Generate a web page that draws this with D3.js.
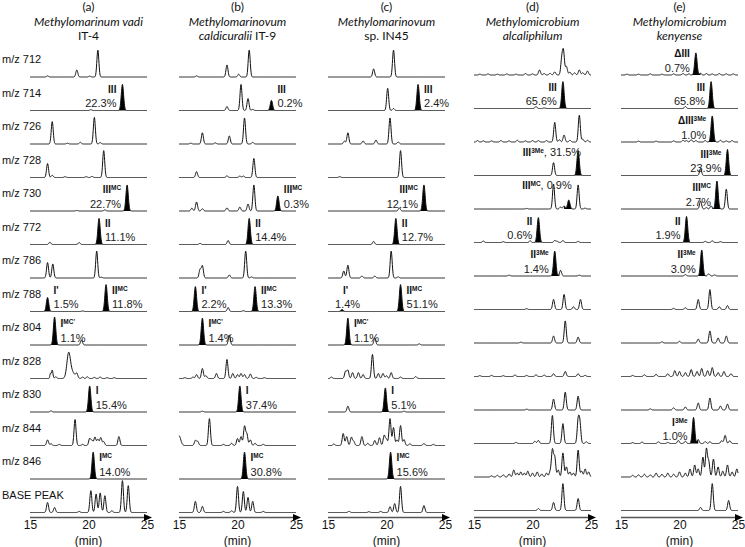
<!DOCTYPE html>
<html><head><meta charset="utf-8">
<script src="https://cdn.jsdelivr.net/npm/d3@7"></script>
<style>body{margin:0;background:#fff}svg{display:block}</style>
</head><body>
<svg id="chart" width="745" height="547"></svg>
<script>
// ---------------- DATA ----------------
const rowLabels = ["m/z 712","m/z 714","m/z 726","m/z 728","m/z 730","m/z 772","m/z 786","m/z 788","m/z 804","m/z 828","m/z 830","m/z 844","m/z 846","BASE PEAK"];
const tickValues = [15, 20, 25];
const timeDomain = [15, 25];
const axisUnit = "(min)";

const titlesA = [[["(a)",0]],[["Methylomarinum vadi",1]],[["IT-4",0]]];
const titlesB = [[["(b)",0]],[["Methylomarinovum",1]],[["caldicuralii",1],[" IT-9",0]]];
const titlesC = [[["(c)",0]],[["Methylomarinovum",1]],[["sp. IN45",0]]];
const titlesD = [[["(d)",0]],[["Methylomicrobium",1]],[["alcaliphilum",1]]];
const titlesE = [[["(e)",0]],[["Methylomicrobium",1]],[["kenyense",1]]];

// peaks per row: [retention time (min), relative intensity, optional width (min)]
const peaksA = [
 [[16.5,4],[19.0,25],[20.1,3],[20.8,96]],
 [[20.2,3]],
 [[16.9,80],[18.2,3],[19.3,6],[20.5,95],[21.0,5]],
 [[16.5,50],[16.9,8],[18.0,3],[19.8,3],[20.3,4],[21.3,96]],
 [[19.0,2],[21.4,4]],
 [[16.7,8],[19.2,7]],
 [[16.5,55],[16.95,50],[20.7,96],[21.1,3]],
 [[19.5,2]],
 [[19.4,18]],
 [[16.75,18,0.05],[16.9,30,0.06],[17.2,6],[18.3,85,0.15],[18.6,22,0.22],[19.0,16],[19.5,5],[19.9,6],[20.5,4],[21.0,5],[21.6,3],[22.2,3]],
 [[16.8,4]],
 [[16.5,20],[16.8,6],[17.5,4],[18.85,93],[19.5,4],[20.1,25],[20.3,18],[20.55,30],[20.8,22],[21.05,28],[21.3,14],[22.6,32]],
 [],
 [[16.5,36],[17.1,18],[19.2,4],[20.2,78],[20.65,66],[21.0,70],[21.4,60],[22.0,6],[22.9,114],[23.4,96]]
];
const peaksB = [
 [[16.5,4],[19.1,43],[20.1,10],[21.0,96]],
 [[19.1,14],[20.3,93],[20.9,43],[21.3,4]],
 [[16.0,3],[17.0,40],[18.1,4],[19.3,29],[20.6,93],[21.3,6]],
 [[16.5,21],[19.1,6],[20.2,5],[20.5,5],[21.4,68]],
 [[16.1,10],[16.5,32],[17.0,8],[19.1,11],[20.2,14],[20.9,25],[21.4,93]],
 [[16.8,4],[19.2,14]],
 [[16.8,30],[17.0,43],[19.3,11],[20.7,96],[21.2,4]],
 [[19.2,14],[20.5,3]],
 [[19.3,36]],
 [[15.5,3],[16.2,5],[16.5,14],[17.0,36],[17.3,10],[18.2,18],[19.1,68],[19.6,18],[20.0,14],[20.3,18],[20.6,14],[21.1,16],[21.6,4],[22.3,3]],
 [[17.0,3]],
 [[15.0,35,0.15],[16.4,18],[16.6,14],[17.6,96],[18.8,4],[19.5,8],[20.0,25],[20.3,32],[20.6,68],[20.8,40],[21.1,20],[21.5,8],[22.2,4]],
 [],
 [[16.4,40],[17.0,22],[18.8,4],[19.5,6],[20.0,93],[20.5,75],[20.9,54],[21.3,40],[22.2,4]]
];
const peaksC = [
 [[18.9,29],[20.6,96]],
 [[20.1,79],[20.6,7]],
 [[16.4,10],[16.7,40],[18.0,11],[19.1,14],[20.3,93],[21.0,7]],
 [[16.0,3],[21.2,96]],
 [[21.1,11]],
 [[18.9,11]],
 [[16.35,25],[16.7,46],[17.9,7],[19.0,7],[20.4,96],[21.0,4]],
 [],
 [[19.0,25],[22.8,4]],
 [[15.3,5],[16.5,25],[16.7,29],[17.1,21],[17.6,21],[18.0,14],[18.8,86],[19.3,18],[19.7,18],[20.0,10],[20.4,21],[21.2,5],[22.5,7]],
 [[16.7,21],[21.5,3]],
 [[15.5,5],[16.3,43],[16.6,32],[17.0,29],[17.2,14],[17.9,32],[18.4,8],[19.0,18],[19.4,28],[19.8,36],[20.0,22],[20.3,96],[20.6,64],[20.9,20],[21.2,71],[21.5,21],[22.0,6],[23.2,7],[24.0,4]],
 [],
 [[16.8,4],[18.5,3],[19.5,4],[20.3,21],[20.7,32],[21.2,93],[23.2,25]]
];
const peaksD = [
 [[15.5,3],[16.2,4],[17.0,3],[17.8,4],[18.6,3],[19.4,5],[20.0,4],[20.6,18],[21.0,5],[21.5,6],[21.9,11],[22.5,54],[22.65,80],[22.9,30],[23.2,10],[23.6,8],[24.0,18],[24.3,8],[24.7,14]],
 [[20.3,7],[21.0,2]],
 [[15.3,5],[15.8,4],[16.5,4],[17.3,5],[18.0,4],[18.7,6],[19.4,4],[20.0,5],[20.5,5],[21.2,5],[21.9,70],[22.3,8],[22.7,25],[23.2,6],[24.0,96],[24.3,10],[24.7,6]],
 [[21.8,46]],
 [[19.5,2],[21.8,89],[22.4,7],[22.7,11],[23.9,86],[24.5,3]],
 [[15.8,5],[17.5,3],[19.8,6],[21.9,7],[22.1,4],[22.6,7],[23.9,4]],
 [[18.0,3],[22.4,20],[24.0,3]],
 [[19.5,3],[21.8,36],[22.7,54],[23.5,10],[24.1,36]],
 [[19.0,3],[21.8,25],[22.8,79],[23.9,21]],
 [[15.5,3],[16.5,4],[17.5,3],[18.5,5],[19.5,4],[20.3,6],[21.0,5],[21.8,10],[22.8,18],[23.9,10],[24.5,4]],
 [[19.5,3],[21.8,39],[22.8,64],[23.9,50]],
 [[18.6,4],[20.2,8],[20.5,11],[21.7,100],[22.6,71],[23.9,79],[24.05,71],[24.6,6]],
 [[16.5,4],[17.0,6],[17.5,8],[18.0,11],[18.4,25],[18.7,14],[19.0,18],[19.3,14],[19.6,21],[20.0,14],[20.4,18],[20.8,11],[21.2,14],[21.5,18],[21.7,96],[21.9,71],[22.2,25],[22.6,86],[22.9,36],[23.2,18],[23.5,14],[23.9,96],[24.2,21],[24.5,29],[24.8,18]],
 [[20.5,7],[21.8,29],[22.6,96],[23.9,43]]
];
const peaksE = [
 [[15.5,3],[16.5,3],[17.5,4],[18.5,3],[19.5,4],[20.3,5],[20.8,4],[21.8,6],[22.3,5],[22.8,4],[23.4,5],[24.0,4],[24.6,4]],
 [[20.5,7]],
 [[16.5,3],[18.0,3],[19.5,4],[20.3,6],[20.6,5],[21.0,8],[21.4,5],[22.2,5],[23.5,6],[24.0,4],[24.5,5]],
 [[21.8,25]],
 [[21.8,29],[22.3,5],[22.7,11],[24.0,71]],
 [[22.2,4],[22.8,6],[23.5,3]],
 [[20.5,5],[22.5,8],[23.0,4]],
 [[19.5,4],[20.5,6],[21.6,36],[22.6,71],[23.4,10],[24.1,14]],
 [[18.5,4],[20.0,6],[21.6,14],[22.6,43],[23.3,18],[24.0,25]],
 [[16.0,4],[17.0,6],[18.0,8],[19.0,10],[19.6,21],[20.0,18],[20.5,14],[21.0,25],[21.5,18],[21.9,29],[22.4,21],[22.8,32],[23.3,14],[23.8,18],[24.4,10]],
 [[17.5,4],[19.5,8],[20.5,11],[21.6,25],[22.6,43],[23.5,14],[24.1,21]],
 [[16.0,3],[16.8,5],[18.2,6],[19.0,4],[19.9,11],[20.5,8],[21.6,14],[22.2,7],[22.6,6],[23.6,10],[23.9,29],[24.3,10]],
 [[16.0,6],[16.5,8],[17.0,10],[17.5,8],[18.0,14],[18.5,10],[19.0,14],[19.5,10],[20.0,18],[20.5,14],[20.9,29],[21.3,43],[21.6,29],[22.0,71],[22.3,100],[22.5,54],[22.9,64],[23.3,36],[23.7,21],[24.1,43],[24.5,18],[24.9,29]],
 [[21.8,11],[22.8,96],[24.2,36]]
];

// filled (identified) peaks: [row, time, intensity]
const filledA = [[1,22.9,93],[4,23.3,93],[5,20.9,93],[7,16.5,50],[7,21.5,96],[8,17.1,100],[10,20.1,93],[12,20.4,96]];
const filledB = [[1,22.9,36],[4,23.45,54],[5,21.0,93],[7,16.4,89],[7,21.5,89],[8,17.0,96],[10,20.2,93],[12,20.6,96]];
const filledC = [[1,22.7,93],[4,23.2,93],[5,20.8,93],[7,16.2,7],[7,21.2,96],[8,16.7,96],[10,19.9,86],[12,20.35,96]];
const filledD = [[1,22.6,96],[3,23.9,89],[4,23.1,32],[5,20.5,89],[6,21.9,89]];
const filledE = [[0,21.4,79],[1,22.7,96],[2,22.8,93],[3,24.1,93],[4,23.2,100],[5,20.6,93],[6,21.9,93],[11,21.2,93]];

// annotations: [row, time, compound, superscript, percentage, side]
const notesA = [[1,22.9,"III","","22.3%","L"],[4,23.3,"III","MC","22.7%","L"],[5,20.9,"II","","11.1%","R"],[7,16.5,"I'","","1.5%","R"],[7,21.5,"II","MC","11.8%","R"],[8,17.1,"I","MC'","1.1%","R"],[10,20.1,"I","","15.4%","R"],[12,20.4,"I","MC","14.0%","R"]];
const notesB = [[1,22.9,"III","","0.2%","R"],[4,23.45,"III","MC","0.3%","R"],[5,21.0,"II","","14.4%","R"],[7,16.4,"I'","","2.2%","R"],[7,21.5,"II","MC","13.3%","R"],[8,17.0,"I","MC'","1.4%","R"],[10,20.2,"I","","37.4%","R"],[12,20.6,"I","MC","30.8%","R"]];
const notesC = [[1,22.7,"III","","2.4%","R"],[4,23.2,"III","MC","12.1%","L"],[5,20.8,"II","","12.7%","R"],[7,16.2,"I'","","1.4%","C"],[7,21.2,"II","MC","51.1%","R"],[8,16.7,"I","MC'","1.1%","R"],[10,19.9,"I","","5.1%","R"],[12,20.35,"I","MC","15.6%","R"]];
const notesD = [[1,22.6,"III","","65.6%","L"],[3,23.9,"III","3Me",", 31.5%","I"],[4,23.1,"III","MC",", 0.9%","I"],[5,20.5,"II","","0.6%","L"],[6,21.9,"II","3Me","1.4%","L"]];
const notesE = [[0,21.4,"ΔIII","","0.7%","L"],[1,22.7,"III","","65.8%","L"],[2,22.8,"ΔIII","3Me","1.0%","L"],[3,24.1,"III","3Me","23.9%","L"],[4,23.2,"III","MC","2.7%","L"],[5,20.6,"II","","1.9%","L"],[6,21.9,"II","3Me","3.0%","L"],[11,21.2,"I","3Me","1.0%","L"]];

// ---------------- DRAWING ----------------
const columns = [
 {x0:30,  titles:titlesA, peaks:peaksA, filled:filledA, notes:notesA, dy:0},
 {x0:179, titles:titlesB, peaks:peaksB, filled:filledB, notes:notesB, dy:0},
 {x0:328, titles:titlesC, peaks:peaksC, filled:filledC, notes:notesC, dy:0},
 {x0:474, titles:titlesD, peaks:peaksD, filled:filledD, notes:notesD, dy:-2},
 {x0:621, titles:titlesE, peaks:peaksE, filled:filledE, notes:notesE, dy:-2}
];
const colW = 117;
const row0 = 77, rowStep = 33.5;
const ampPx = 28;
const sigma0 = 0.085;
const sans = "'Liberation Sans', Arial, sans-serif";
const narrow = "'Liberation Sans Narrow','Liberation Sans',Arial,sans-serif";
const svg = d3.select("#chart");
const samples = d3.range(timeDomain[0], timeDomain[1] + 1e-9, 0.02);

function signal(list, t) {
  let s = 0;
  for (const p of list) {
    const sg = p[2] || sigma0;
    const d = t - p[0];
    s += p[1] * Math.exp(-d*d/(2*sg*sg));
  }
  return s;
}

// row labels
svg.append("g").selectAll("text").data(rowLabels).join("text")
  .attr("x", 2).attr("y", (d,i) => row0 + i*rowStep - 14)
  .attr("font-family", sans).attr("font-size", 11).attr("fill", "#111")
  .text(d => d);

columns.forEach(col => {
  const x = d3.scaleLinear().domain(timeDomain).range([col.x0, col.x0 + colW]);
  const g = svg.append("g");
  const cx = col.x0 + colW/2;
  col.titles.forEach((line, li) => {
    const t = g.append("text").attr("x", cx).attr("y", 11 + li*14.5)
      .attr("text-anchor", "middle").attr("font-family", "Lato, 'Open Sans', sans-serif")
      .attr("font-size", 12).attr("fill", "#111");
    line.forEach(seg => t.append("tspan").attr("font-style", seg[1] ? "italic" : "normal").text(seg[0]));
  });
  const base = i => row0 + i*rowStep + col.dy;
  rowLabels.forEach((lab, i) => {
    const fil = col.filled.filter(f => f[0] === i).map(f => [f[1], f[2], 0.1]);
    const all = col.peaks[i].concat(fil);
    const b = base(i);
    const y = d3.scaleLinear().domain([0,100]).range([b, b - ampPx]);
    fil.forEach(f => {
      const ts = d3.range(f[0]-0.4, f[0]+0.4001, 0.01);
      g.append("path").datum(ts)
        .attr("d", d3.area().x(t => x(t)).y0(b).y1(t => y(signal(all, t))))
        .attr("fill", "#000");
    });
    g.append("path").datum(samples)
      .attr("d", d3.line().x(t => x(t)).y(t => y(signal(all, t))))
      .attr("fill", "none").attr("stroke", "#111").attr("stroke-width", 1);
  });
  col.notes.forEach(n => {
    const [ri, t, comp, sup, pct, side] = n;
    const b = base(ri);
    const xp = x(t);
    if (side === "I") {
      const tx = g.append("text").attr("x", xp + 3).attr("y", b - 20).attr("text-anchor", "end")
        .attr("font-family", sans).attr("font-size", 11).attr("fill", "#222");
      tx.append("tspan").attr("font-family", narrow).attr("font-weight", "bold").attr("font-size", 10).attr("fill", "#111").text(comp);
      tx.append("tspan").attr("font-family", narrow).attr("font-weight", "bold").attr("font-size", 6.5).attr("fill", "#111").attr("dy", -3).text(sup);
      tx.append("tspan").attr("dy", 3).text(pct);
      return;
    }
    let anchor, xn, xq;
    if (side === "L") { anchor = "end"; xn = xp - 6; xq = xp - 6; }
    else if (side === "R") { anchor = "start"; xn = xp + 6; xq = xp + 6; }
    else { anchor = "start"; xn = xp + 1; xq = xp - 7; }
    const tn = g.append("text").attr("x", xn).attr("y", b - 18).attr("text-anchor", anchor)
      .attr("font-family", narrow).attr("font-weight", "bold").attr("font-size", 10).attr("fill", "#111");
    tn.append("tspan").text(comp);
    if (sup) tn.append("tspan").attr("font-size", 6.5).attr("dy", -3).text(sup);
    g.append("text").attr("x", xq).attr("y", b - 3.5).attr("text-anchor", side === "C" ? "start" : anchor)
      .attr("font-family", sans).attr("font-size", 11).attr("fill", "#222").text(pct);
  });
  // axis with arrow
  const ay = row0 + 13*rowStep + 5;
  const axis = d3.axisBottom(x).tickValues(tickValues).tickSize(0).tickPadding(3).tickFormat(d3.format("d"));
  const ag = g.append("g").attr("transform", `translate(0,${ay})`).call(axis);
  ag.select(".domain").attr("stroke", "#555").attr("stroke-width", 1.6)
    .attr("d", `M${col.x0},0H${col.x0 + colW - 2}`);
  ag.selectAll("text").attr("font-family", sans).attr("font-size", 12).attr("fill", "#111");
  g.append("path").attr("d", `M${col.x0+colW-3},${ay-3.5}L${col.x0+colW+5},${ay}L${col.x0+colW-3},${ay+3.5}Z`).attr("fill", "#000");
  g.append("text").attr("x", x(20)).attr("y", 545).attr("text-anchor", "middle")
    .attr("font-family", sans).attr("font-size", 12).attr("fill", "#111").text(axisUnit);
});
</script>
</body></html>
